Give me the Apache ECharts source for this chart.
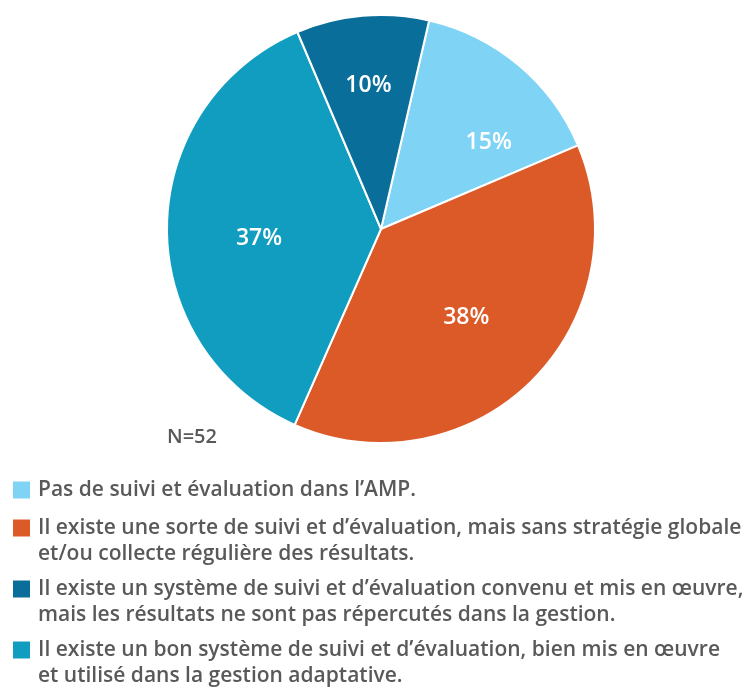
<!DOCTYPE html>
<html>
<head>
<meta charset="utf-8">
<script src="https://cdn.jsdelivr.net/npm/echarts@6/dist/echarts.min.js"></script>
<style>
  html, body { margin: 0; padding: 0; background: #fff; }
  #chart { width: 754px; height: 693px; }
</style>
</head>
<body>
<div id="chart"></div>
<script>
// Categories, shares (%) and colours of the pie
const categories = [
  "Pas de suivi et évaluation dans l’AMP.",
  "Il existe une sorte de suivi et d’évaluation, mais sans stratégie globale\net/ou collecte régulière des résultats.",
  "Il existe un système de suivi et d’évaluation convenu et mis en œuvre,\nmais les résultats ne sont pas répercutés dans la gestion.",
  "Il existe un bon système de suivi et d’évaluation, bien mis en œuvre\net utilisé dans la gestion adaptative."
];
const shares = [15, 38, 10, 37];
const colors = ["#7FD3F5", "#DC5A28", "#0A6E9A", "#109DC0"];
// Drawing order around the pie (clockwise): light blue, orange, teal, dark blue
const pieOrder = [0, 1, 3, 2];
// Nudges of the inside labels [dx, dy], by category
const labelShift = [[37, -2], [8, 10], [-3, -34], [-12, 10]];
const sampleNote = "N=52";

const FONT = "'Open Sans', 'Noto Sans', sans-serif";

const pieData = pieOrder.map(i => ({
  name: categories[i],
  value: shares[i],
  itemStyle: { color: colors[i] }
}));

// Vertical centre of the first text line of each legend entry
const legendLineCentres = [490, 528, 589, 650];
const LINE_H = 26;
const legends = categories.map((name, i) => {
  const lines = name.split("\n").length;
  // a leading blank line keeps the square beside the first text line
  const extra = lines > 1 ? 1 : 0;
  const blockH = (lines + extra) * LINE_H;
  return {
    data: [name],
    formatter: n => (extra ? "\n" : "") + n,
    left: 11,
    top: legendLineCentres[i] - blockH / 2,
    padding: 0,
    orient: 'vertical',
    icon: 'rect',
    itemWidth: 19,
    itemHeight: 19,
    selectedMode: false,
    textStyle: {
      fontFamily: FONT,
      fontWeight: 600,
      fontSize: 21,
      color: '#595959',
      lineHeight: LINE_H,
      padding: [0, 0, 0, 2]
    }
  };
});

const chart = echarts.init(document.getElementById('chart'), null, { renderer: 'canvas' });
chart.setOption({
  animation: false,
  backgroundColor: '#ffffff',
  title: {
    text: sampleNote,
    left: 167,
    top: 427,
    padding: 0,
    textStyle: { fontFamily: FONT, fontWeight: 600, fontSize: 20, color: '#595959' }
  },
  legend: legends,
  series: [{
    type: 'pie',
    center: [381, 229],
    radius: 214,
    startAngle: 77,
    clockwise: true,
    avoidLabelOverlap: false,
    itemStyle: { borderColor: '#ffffff', borderWidth: 2 },
    label: {
      show: true,
      position: 'inside',
      formatter: '{c}%',
      color: '#ffffff',
      fontFamily: FONT,
      fontWeight: 600,
      fontSize: 23
    },
    labelLayout: function (params) {
      const s = labelShift[pieOrder[params.dataIndex]];
      return { dx: s[0], dy: s[1] };
    },
    labelLine: { show: false },
    emphasis: { disabled: true },
    data: pieData
  }]
});
</script>
</body>
</html>
